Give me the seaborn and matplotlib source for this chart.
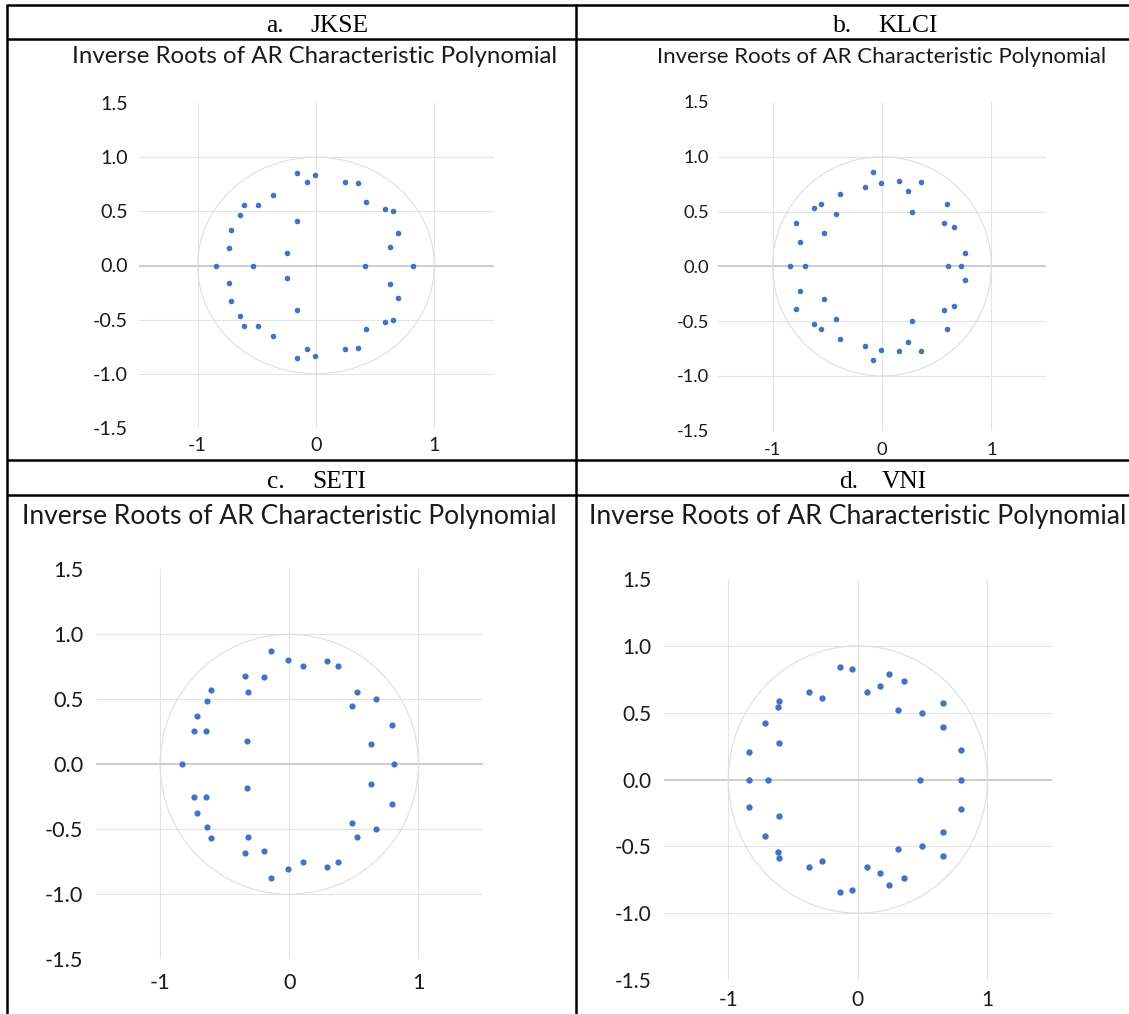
import numpy as np
import pandas as pd
import matplotlib
matplotlib.use("Agg")
import matplotlib.pyplot as plt
from matplotlib.lines import Line2D
from matplotlib.patches import Ellipse
import seaborn as sns

# ---------------- data ----------------
panel_letters = ["a.", "b.", "c.", "d."]
panel_names = ["JKSE", "KLCI", "SETI", "VNI"]
chart_title = "Inverse Roots of AR Characteristic Polynomial"

x_tick_values = [-1, 0, 1]
x_tick_labels = ["-1", "0", "1"]
y_tick_values = [1.5, 1.0, 0.5, 0.0, -0.5, -1.0, -1.5]
y_tick_labels = ["1.5", "1.0", "0.5", "0.0", "-0.5", "-1.0", "-1.5"]

jkse_re = [-0.157, -0.006, -0.074, 0.243, 0.354, -0.363, 0.425, -0.606, -0.492,
           0.585, 0.649, -0.640, -0.163, -0.717, 0.689, -0.738, 0.625, -0.243,
           -0.843, -0.532, 0.415, 0.822,
           -0.157, -0.006, -0.074, 0.243, 0.354, -0.363, 0.425, -0.606, -0.492,
           0.585, 0.649, -0.640, -0.163, -0.717, 0.689, -0.738, 0.625, -0.243]
jkse_im = [0.858, 0.837, 0.775, 0.775, 0.757, 0.649, 0.585, 0.563, 0.560,
           0.523, 0.505, 0.462, 0.415, 0.329, 0.298, 0.166, 0.175, 0.117,
           0.0, 0.0, 0.0, 0.0,
           -0.858, -0.837, -0.775, -0.775, -0.757, -0.649, -0.585, -0.563, -0.560,
           -0.523, -0.505, -0.462, -0.415, -0.329, -0.298, -0.166, -0.175, -0.117]

klci_re = [-0.078, -0.013, -0.160, 0.160, 0.356, 0.241, -0.385, 0.594, -0.555,
           -0.623, -0.418, 0.271, 0.564, -0.783, 0.659, -0.529, -0.750, 0.757,
           -0.839, -0.708, 0.607, 0.718,
           -0.078, -0.013, -0.160, 0.160, 0.356, 0.241, -0.385, 0.594, -0.555,
           -0.623, -0.418, 0.271, 0.564, -0.783, 0.659, -0.529, -0.750, 0.757]
klci_im = [0.857, 0.762, 0.726, 0.777, 0.774, 0.686, 0.662, 0.573, 0.573,
           0.530, 0.482, 0.497, 0.396, 0.393, 0.360, 0.302, 0.223, 0.125,
           0.0, 0.0, 0.0, 0.0,
           -0.857, -0.762, -0.726, -0.777, -0.774, -0.686, -0.662, -0.573, -0.573,
           -0.530, -0.482, -0.497, -0.396, -0.393, -0.360, -0.302, -0.223, -0.125]

seti_re = [-0.140, -0.008, 0.104, 0.289, 0.376, -0.346, -0.197, -0.317, -0.607,
           0.528, -0.638, 0.674, 0.483, -0.713, -0.736, -0.643, 0.795, 0.632, -0.329,
           -0.834, 0.812,
           -0.140, -0.008, 0.104, 0.289, 0.376, -0.346, -0.197, -0.317, -0.607,
           0.528, -0.638, 0.674, 0.483, -0.713, -0.736, -0.643, 0.795, 0.632, -0.329]
seti_im = [0.875, 0.804, 0.755, 0.793, 0.755, 0.681, 0.668, 0.559, 0.569,
           0.556, 0.485, 0.499, 0.450, 0.371, 0.253, 0.253, 0.305, 0.155, 0.180,
           0.0, 0.0,
           -0.875, -0.804, -0.755, -0.793, -0.755, -0.681, -0.668, -0.559, -0.569,
           -0.556, -0.485, -0.499, -0.450, -0.371, -0.253, -0.253, -0.305, -0.155, -0.180]

vni_re = [-0.138, -0.041, 0.245, 0.360, 0.171, 0.069, -0.380, -0.278, -0.605,
          -0.616, 0.655, 0.311, 0.498, -0.715, 0.660, -0.611, -0.836, 0.798,
          -0.842, -0.690, 0.481, 0.801,
          -0.138, -0.041, 0.245, 0.360, 0.171, 0.069, -0.380, -0.278, -0.605,
          -0.616, 0.655, 0.311, 0.498, -0.715, 0.660, -0.611, -0.836, 0.798]
vni_im = [0.839, 0.826, 0.792, 0.737, 0.703, 0.654, 0.654, 0.612, 0.586,
          0.544, 0.570, 0.521, 0.500, 0.422, 0.396, 0.273, 0.203, 0.221,
          0.0, 0.0, 0.0, 0.0,
          -0.839, -0.826, -0.792, -0.737, -0.703, -0.654, -0.654, -0.612, -0.586,
          -0.544, -0.570, -0.521, -0.500, -0.422, -0.396, -0.273, -0.203, -0.221]

series_re = [jkse_re, klci_re, seti_re, vni_re]
series_im = [jkse_im, klci_im, seti_im, vni_im]

# ---------------- layout (pixels) ----------------
W, H = 1129, 1014
# axes box: x0, x1, ytop, ybottom
boxes = [(138.5, 493.5, 103.0, 428.0),
         (718.0, 1046.0, 102.0, 430.7),
         (95.5, 483.0, 569.3, 959.3),
         (663.5, 1052.0, 579.0, 980.0)]
title_span = [(72, 557), (657, 1107), (22, 556), (590, 1126)]
title_base = [63.3, 63.3, 524.0, 524.0]
tick_w = [35.0, 32.7, 38.3, 37.0]
xpad_px = [8.7, 11.0, 14.0, 9.5]
ypad_px = [10.5, 9.0, 12.0, 12.0]
dot_px = [5.6, 5.6, 6.2, 6.4]
letter_right = [284, 852, 285, 858]
name_left = [310, 878, 312, 882]
header_base = [32.5, 32.5, 488.0, 488.0]

sns.set_theme(style="white")
plt.rcParams['font.family'] = ['Lato', 'DejaVu Sans']

fig = plt.figure(figsize=(W / 100, H / 100), dpi=100)
fig.patch.set_facecolor("white")
renderer = fig.canvas.get_renderer()

SANS = ['Lato', 'DejaVu Sans']
SERIF = ['Liberation Serif', 'DejaVu Serif']


def fit(text, family, target):
    t = fig.text(0, 0, text, fontsize=10, family=family)
    w = t.get_window_extent(renderer).width
    t.remove()
    return 10.0 * target / w


def fx(x):
    return x / W


def fy(y):
    return 1 - y / H


TXT = "#1a1a1a"
BLUE = "#4472C4"

header_size = fit("JKSE", SERIF, 58.0)

for i in range(4):
    x0, x1, yt, yb = boxes[i]
    ax = fig.add_axes([fx(x0), fy(yb), (x1 - x0) / W, (yb - yt) / H])
    ax.set_facecolor("none")
    df = pd.DataFrame({"re": series_re[i], "im": series_im[i]})

    # gridlines
    for gy in [-1.0, -0.5, 0.5, 1.0]:
        ax.axhline(gy, color="#E4E4E4", lw=0.8, zorder=0)
    for gx in x_tick_values:
        ax.axvline(gx, color="#E4E4E4", lw=0.8, zorder=0)
    ax.axhline(0, color="#C4C4C4", lw=1.2, zorder=1)

    # unit circle
    ax.add_patch(Ellipse((0, 0), 2, 2, fill=False, edgecolor="#DEDEDE", lw=0.8, zorder=1))

    dpt = dot_px[i] * 0.72
    sns.scatterplot(data=df, x="re", y="im", ax=ax, color=BLUE, s=dpt ** 2,
                    linewidth=0, zorder=3)

    ax.set_xlim(-1.5, 1.5)
    ax.set_ylim(-1.5, 1.5)
    ax.set_xlabel("")
    ax.set_ylabel("")
    for sp in ax.spines.values():
        sp.set_visible(False)

    tsize = fit("-1.5", SANS, tick_w[i])
    ax.set_xticks(x_tick_values, x_tick_labels)
    ax.set_yticks(y_tick_values, y_tick_labels)
    ax.tick_params(axis="x", length=0, pad=xpad_px[i] * 0.72, labelsize=tsize, colors=TXT)
    ax.tick_params(axis="y", length=0, pad=ypad_px[i] * 0.72, labelsize=tsize, colors=TXT)
    for lab in ax.get_xticklabels() + ax.get_yticklabels():
        lab.set_family(SANS)

    # chart title
    l, r = title_span[i]
    fig.text(fx((l + r) / 2), fy(title_base[i]), chart_title, ha="center", va="baseline",
             fontsize=fit(chart_title, SANS, r - l), family=SANS, color=TXT)

    # table header
    fig.text(fx(letter_right[i]), fy(header_base[i]), panel_letters[i], ha="right",
             va="baseline", fontsize=header_size, family=SERIF, color="black")
    fig.text(fx(name_left[i]), fy(header_base[i]), panel_names[i], ha="left",
             va="baseline", fontsize=header_size, family=SERIF, color="black")

# table lines
LW = 1.8
lines = [((7, W), (5, 5)),
         ((7, W), (39, 39)),
         ((7, W), (460.3, 460.3)),
         ((7, W), (495, 495)),
         ((6.5, 6.5), (4, H)),
         ((576.3, 576.3), (4, H))]
for (xa, xb), (ya, yb2) in lines:
    fig.add_artist(Line2D([fx(xa), fx(xb)], [fy(ya), fy(yb2)], color="black", lw=LW,
                          transform=fig.transFigure, solid_capstyle="butt"))

fig.savefig("out.png", dpi=100, facecolor="white")
